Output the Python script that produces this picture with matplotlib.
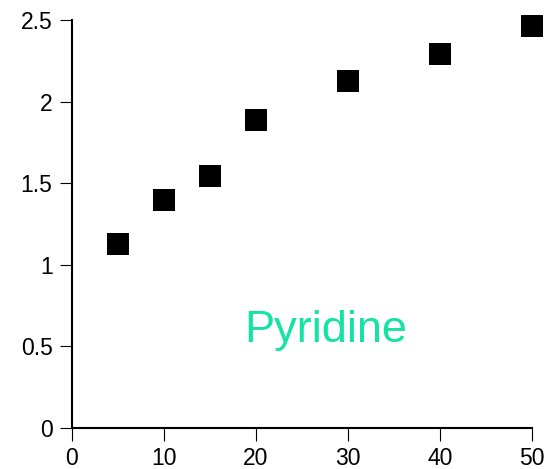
import matplotlib
matplotlib.use("Agg")
import matplotlib.pyplot as plt

plt.rcParams['font.family'] = ['Liberation Sans', 'DejaVu Sans']

concentration = [5, 10, 15, 20, 30, 40, 50]
response = [1.127, 1.397, 1.543, 1.887, 2.126, 2.29, 2.463]
x_ticks = [0, 10, 20, 30, 40, 50]
y_ticks = [0, 0.5, 1, 1.5, 2, 2.5]
y_tick_labels = ["0", "0.5", "1", "1.5", "2", "2.5"]
label_text = "Pyridine"

fig = plt.figure(figsize=(5.47, 4.69), dpi=100)
ax = fig.add_axes([72 / 547, 1 - 428 / 469, 460 / 547, 408 / 469])

ax.plot(concentration, response, linestyle='none', marker='s', markersize=16,
        markeredgewidth=0, color='black', clip_on=False, zorder=3)

ax.set_xlim(0, 50)
ax.set_ylim(0, 2.5)
ax.set_xticks(x_ticks)
ax.set_xticklabels([str(v) for v in x_ticks])
ax.set_yticks(y_ticks)
ax.set_yticklabels(y_tick_labels)

for side in ('top', 'right'):
    ax.spines[side].set_visible(False)
for side in ('left', 'bottom'):
    ax.spines[side].set_linewidth(1.5)

ax.tick_params(axis='both', direction='out', length=9, width=0.8,
               labelsize=16.5, colors='black')
ax.tick_params(axis='x', pad=5)
ax.tick_params(axis='y', pad=5)

ax.text(27.6, 0.595, label_text, color='#14E3A5', fontsize=32.5,
        ha='center', va='center')

fig.savefig("out.png", dpi=100)
